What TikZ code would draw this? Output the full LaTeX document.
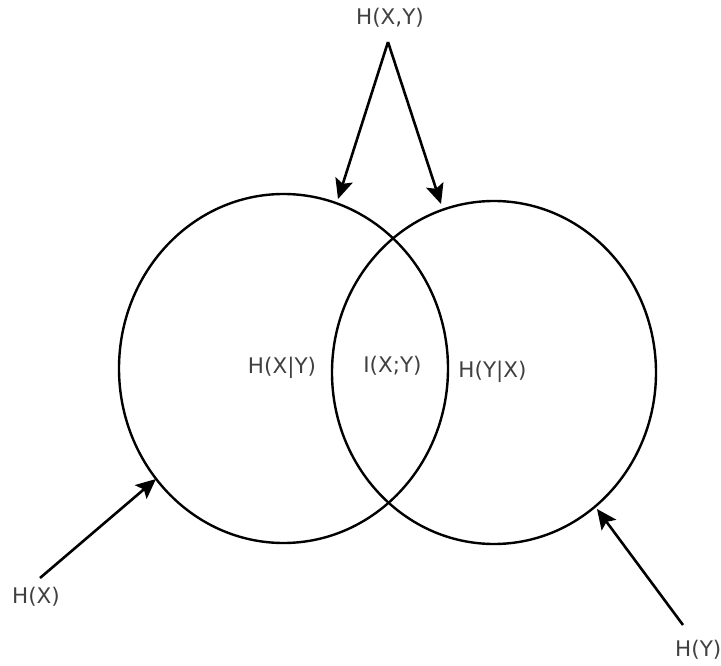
\documentclass[tikz,border=0pt]{standalone}
\usepackage{fontspec}
\setmainfont{DejaVu Sans}
\usetikzlibrary{arrows.meta}
\definecolor{labelgray}{HTML}{404040}
\begin{document}
\begin{tikzpicture}[x=1pt,y=-1pt,
  lbl/.style={text=labelgray,font=\fontsize{21.5}{25}\selectfont,inner sep=0pt},
  ring/.style={draw=black,line width=2.4pt},
  pointer/.style={draw=black,line width=2.6pt,-{Stealth[length=20pt,width=18pt,inset=4pt]}}]
\useasboundingbox (0,0) rectangle (721,666);
\clip (0,0) rectangle (721,666);
% circles
\draw[ring] (283.5,368.5) ellipse [x radius=164.5pt, y radius=174.5pt];
\draw[ring] (494,372.5) ellipse [x radius=162pt, y radius=171.5pt];
% labels
\node[lbl] (hxy) at (390,18) {H(X,Y)};
\node[lbl] (hxgy) at (282,368) {H(X|Y)};
\node[lbl] (ixy) at (392.5,366) {I(X;Y)};
\node[lbl] (hygx) at (492.5,372) {H(Y|X)};
\node[lbl] (hx) at (36,597) {H(X)};
\node[lbl,anchor=west] (hy) at (675,650) {H(Y)};
% arrow endpoints
\coordinate (top) at (388,42);
\coordinate (tipl) at (338,199);
\coordinate (tipr) at (441,204);
\coordinate (tailx) at (40,578);
\coordinate (tipx) at (156,479);
\coordinate (taily) at (683,625);
\coordinate (tipy) at (597,509);
\draw[pointer] (top) -- (tipl);
\draw[pointer] (top) -- (tipr);
\draw[pointer] (tailx) -- (tipx);
\draw[pointer] (taily) -- (tipy);
\end{tikzpicture}
\end{document}
